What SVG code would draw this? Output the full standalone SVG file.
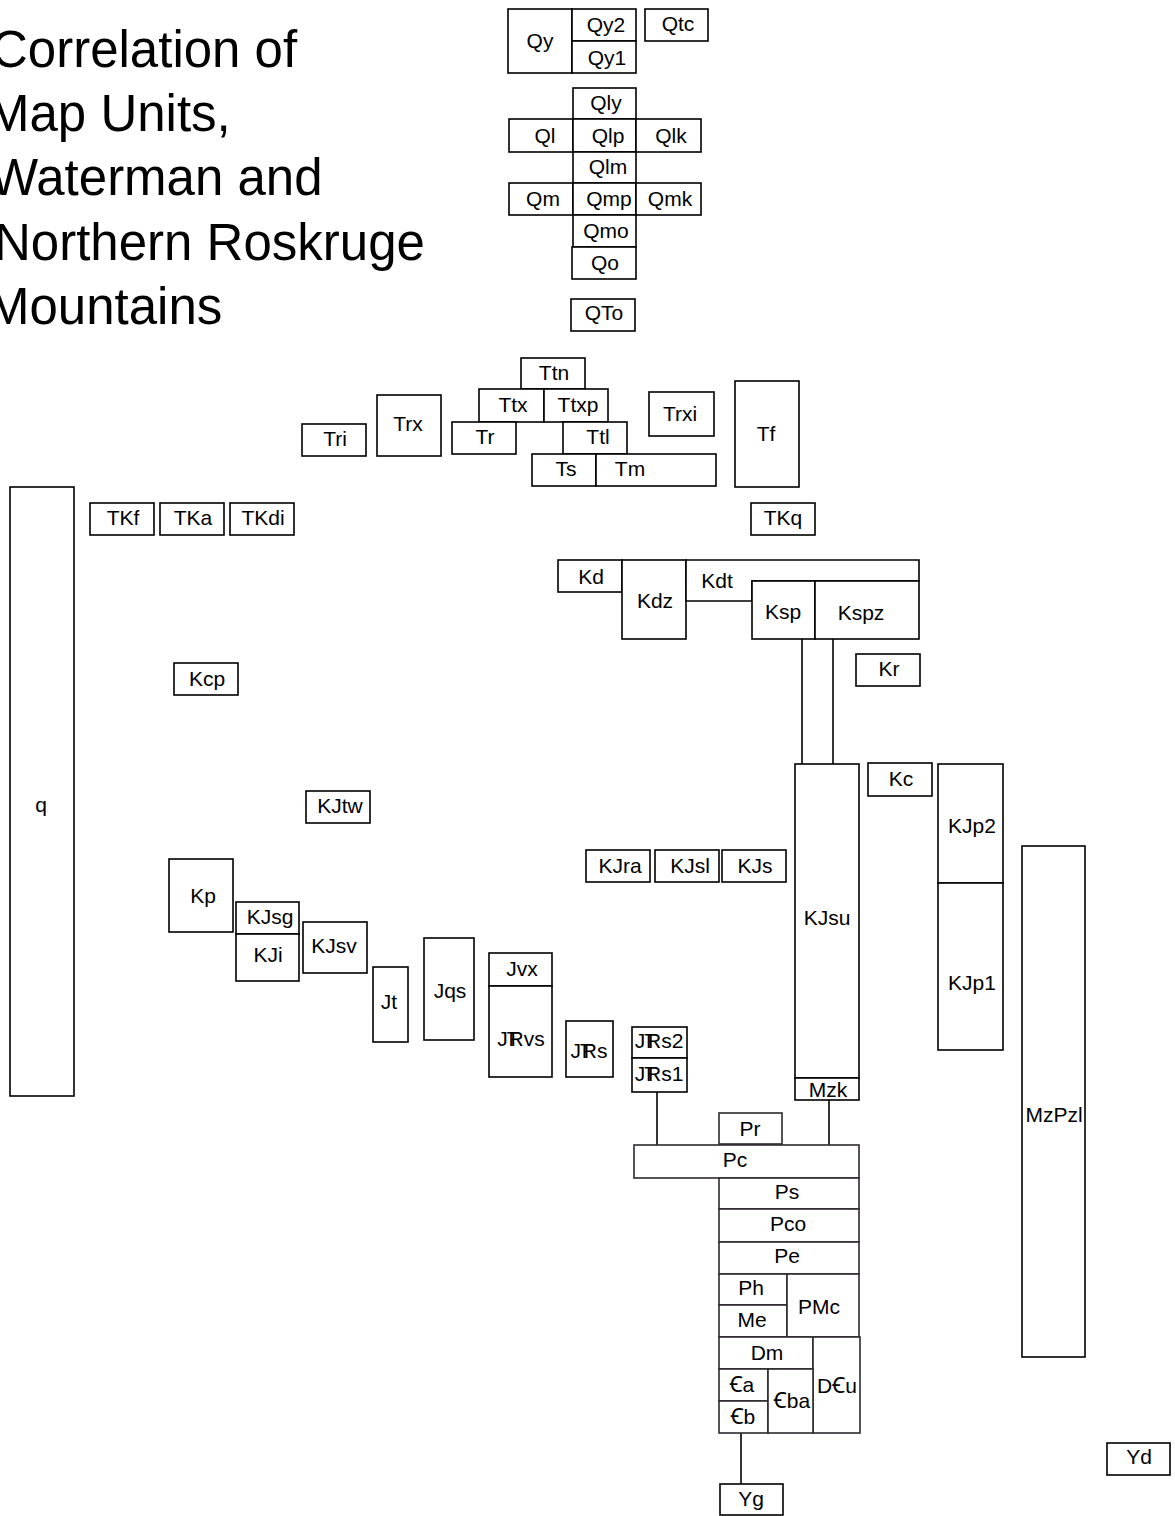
<svg xmlns="http://www.w3.org/2000/svg" width="1175" height="1516" viewBox="0 0 1175 1516">
<style>
.b{fill:#fff;stroke:#000;stroke-width:1.6}
.p{fill:#fff;stroke:#2e2a30;stroke-width:1.6}
.c{fill:none;stroke:#000;stroke-width:1.6}
.t{font-family:"Liberation Sans",Arial,"Noto Sans","DejaVu Sans",sans-serif;font-size:21px;text-anchor:middle;fill:#000}
.h{font-family:"Liberation Sans",Arial,sans-serif;font-size:51px;fill:#000}
</style>
<rect width="1175" height="1516" fill="#fff"/>
<g id="title">
<text class="h" x="-9" y="67">Correlation of</text>
<text class="h" x="-13" y="131">Map Units,</text>
<text class="h" x="-10" y="195">Waterman and</text>
<text class="h" x="-6" y="260">Northern Roskruge</text>
<text class="h" x="-13" y="324">Mountains</text>
</g>
<g id="connectors">
<line class="c" x1="802" y1="639" x2="802" y2="764"/>
<line class="c" x1="833" y1="639" x2="833" y2="764"/>
<line class="c" x1="829" y1="1100" x2="829" y2="1145"/>
<line class="c" x1="657" y1="1092" x2="657" y2="1145"/>
<line class="c" x1="741" y1="1433" x2="741" y2="1484"/>
</g>
<g id="Qy"><rect class="b" x="508" y="9" width="64" height="64"/><text class="t" x="540" y="48">Qy</text></g>
<g id="Qy2"><rect class="b" x="572" y="9" width="64" height="32"/><text class="t" x="606" y="32">Qy2</text></g>
<g id="Qy1"><rect class="b" x="572" y="41" width="64" height="32"/><text class="t" x="607" y="65">Qy1</text></g>
<g id="Qtc"><rect class="b" x="645" y="9" width="63" height="32"/><text class="t" x="678" y="31">Qtc</text></g>
<g id="Qly"><rect class="b" x="573" y="88" width="63" height="31"/><text class="t" x="606" y="110">Qly</text></g>
<g id="Ql"><rect class="b" x="509" y="119" width="64" height="33"/><text class="t" x="545" y="143">Ql</text></g>
<g id="Qlp"><rect class="b" x="573" y="119" width="63" height="33"/><text class="t" x="608" y="143">Qlp</text></g>
<g id="Qlk"><rect class="b" x="636" y="119" width="65" height="33"/><text class="t" x="671" y="143">Qlk</text></g>
<g id="Qlm"><rect class="b" x="573" y="152" width="63" height="31"/><text class="t" x="608" y="174">Qlm</text></g>
<g id="Qm"><rect class="b" x="509" y="183" width="64" height="32"/><text class="t" x="543" y="206">Qm</text></g>
<g id="Qmp"><rect class="b" x="573" y="183" width="63" height="32"/><text class="t" x="609" y="206">Qmp</text></g>
<g id="Qmk"><rect class="b" x="636" y="183" width="65" height="32"/><text class="t" x="670" y="206">Qmk</text></g>
<g id="Qmo"><rect class="b" x="573" y="215" width="63" height="32"/><text class="t" x="606" y="238">Qmo</text></g>
<g id="Qo"><rect class="b" x="572" y="247" width="64" height="32"/><text class="t" x="605" y="270">Qo</text></g>
<g id="QTo"><rect class="b" x="571" y="299" width="64" height="32"/><text class="t" x="604" y="320">QTo</text></g>
<g id="Ttn"><rect class="b" x="521" y="358" width="64" height="31"/><text class="t" x="554" y="380">Ttn</text></g>
<g id="Ttx"><rect class="b" x="479" y="389" width="65" height="33"/><text class="t" x="513" y="412">Ttx</text></g>
<g id="Ttxp"><rect class="b" x="544" y="389" width="64" height="33"/><text class="t" x="578" y="412">Ttxp</text></g>
<g id="Tr"><rect class="b" x="452" y="422" width="64" height="32"/><text class="t" x="485" y="444">Tr</text></g>
<g id="Ttl"><rect class="b" x="563" y="422" width="64" height="32"/><text class="t" x="598" y="444">Ttl</text></g>
<g id="Ts"><rect class="b" x="532" y="454" width="64" height="32"/><text class="t" x="566" y="476">Ts</text></g>
<g id="Tm"><rect class="b" x="596" y="454" width="120" height="32"/><text class="t" x="630" y="476">Tm</text></g>
<g id="Trxi"><rect class="b" x="649" y="392" width="65" height="44"/><text class="t" x="680" y="421">Trxi</text></g>
<g id="Tri"><rect class="b" x="302" y="424" width="64" height="32"/><text class="t" x="335" y="446">Tri</text></g>
<g id="Trx"><rect class="b" x="377" y="395" width="64" height="61"/><text class="t" x="408" y="431">Trx</text></g>
<g id="Tf"><rect class="b" x="735" y="381" width="64" height="106"/><text class="t" x="766" y="441">Tf</text></g>
<g id="TKq"><rect class="b" x="751" y="503" width="64" height="32"/><text class="t" x="783" y="525">TKq</text></g>
<g id="TKf"><rect class="b" x="90" y="503" width="64" height="32"/><text class="t" x="123" y="525">TKf</text></g>
<g id="TKa"><rect class="b" x="160" y="503" width="64" height="32"/><text class="t" x="193" y="525">TKa</text></g>
<g id="TKdi"><rect class="b" x="230" y="503" width="64" height="32"/><text class="t" x="263" y="525">TKdi</text></g>
<g id="q"><rect class="b" x="10" y="487" width="64" height="609"/><text class="t" x="41" y="812">q</text></g>
<g id="Kd"><rect class="b" x="558" y="560" width="64" height="32"/><text class="t" x="591" y="584">Kd</text></g>
<g id="Kdz"><rect class="b" x="622" y="560" width="64" height="79"/><text class="t" x="655" y="608">Kdz</text></g>
<g id="Kdt"><path class="b" d="M686,560 H919 V581 H752 V601 H686 Z"/><text class="t" x="717" y="588">Kdt</text></g>
<g id="Ksp"><rect class="b" x="752" y="581" width="63" height="58"/><text class="t" x="783" y="619">Ksp</text></g>
<g id="Kspz"><rect class="b" x="815" y="581" width="104" height="58"/><text class="t" x="861" y="620">Kspz</text></g>
<g id="Kr"><rect class="b" x="856" y="654" width="64" height="32"/><text class="t" x="889" y="676">Kr</text></g>
<g id="Kcp"><rect class="b" x="174" y="663" width="64" height="32"/><text class="t" x="207" y="686">Kcp</text></g>
<g id="KJtw"><rect class="b" x="306" y="791" width="64" height="32"/><text class="t" x="340" y="813">KJtw</text></g>
<g id="KJra"><rect class="b" x="586" y="850" width="64" height="32"/><text class="t" x="620" y="873">KJra</text></g>
<g id="KJsl"><rect class="b" x="655" y="850" width="64" height="32"/><text class="t" x="690" y="873">KJsl</text></g>
<g id="KJs"><rect class="b" x="722" y="850" width="64" height="32"/><text class="t" x="755" y="873">KJs</text></g>
<g id="KJsu"><rect class="b" x="795" y="764" width="64" height="314"/><text class="t" x="827" y="925">KJsu</text></g>
<g id="Mzk"><rect class="b" x="795" y="1078" width="64" height="22"/><text class="t" x="828" y="1097">Mzk</text></g>
<g id="Kc"><rect class="b" x="868" y="763" width="64" height="33"/><text class="t" x="901" y="786">Kc</text></g>
<g id="KJp2"><rect class="b" x="938" y="764" width="65" height="119"/><text class="t" x="972" y="833">KJp2</text></g>
<g id="KJp1"><rect class="b" x="938" y="883" width="65" height="167"/><text class="t" x="972" y="990">KJp1</text></g>
<g id="MzPzl"><rect class="b" x="1022" y="846" width="63" height="511"/><text class="t" x="1054" y="1122">MzPzl</text></g>
<g id="Kp"><rect class="b" x="169" y="859" width="64" height="73"/><text class="t" x="203" y="903">Kp</text></g>
<g id="KJsg"><rect class="b" x="236" y="902" width="63" height="32"/><text class="t" x="270" y="924">KJsg</text></g>
<g id="KJi"><rect class="b" x="236" y="934" width="63" height="47"/><text class="t" x="268" y="962">KJi</text></g>
<g id="KJsv"><rect class="b" x="303" y="922" width="64" height="51"/><text class="t" x="334" y="953">KJsv</text></g>
<g id="Jt"><rect class="b" x="373" y="967" width="35" height="75"/><text class="t" x="389" y="1009">Jt</text></g>
<g id="Jqs"><rect class="b" x="424" y="938" width="50" height="102"/><text class="t" x="450" y="998">Jqs</text></g>
<g id="Jvx"><rect class="b" x="489" y="953" width="63" height="33"/><text class="t" x="522" y="976">Jvx</text></g>
<g id="JTRvs"><rect class="b" x="489" y="986" width="63" height="91"/><text class="t" x="521" y="1046">J<tspan dx="-1">T</tspan><tspan dx="-11">R</tspan>vs</text></g>
<g id="JTRs"><rect class="b" x="566" y="1021" width="47" height="56"/><text class="t" x="589" y="1058">J<tspan dx="-1">T</tspan><tspan dx="-11">R</tspan>s</text></g>
<g id="JTRs2"><rect class="b" x="632" y="1027" width="55" height="31"/><text class="t" x="659" y="1048">J<tspan dx="-1">T</tspan><tspan dx="-11">R</tspan>s2</text></g>
<g id="JTRs1"><rect class="b" x="632" y="1058" width="55" height="34"/><text class="t" x="659" y="1081">J<tspan dx="-1">T</tspan><tspan dx="-11">R</tspan>s1</text></g>
<g id="Pr"><rect class="p" x="719" y="1113" width="63" height="31"/><text class="t" x="750" y="1136">Pr</text></g>
<g id="Pc"><rect class="p" x="634" y="1145" width="225" height="33"/><text class="t" x="735" y="1167">Pc</text></g>
<g id="Ps"><rect class="p" x="719" y="1178" width="140" height="31"/><text class="t" x="787" y="1199">Ps</text></g>
<g id="Pco"><rect class="p" x="719" y="1209" width="140" height="33"/><text class="t" x="788" y="1231">Pco</text></g>
<g id="Pe"><rect class="p" x="719" y="1242" width="140" height="32"/><text class="t" x="787" y="1263">Pe</text></g>
<g id="Ph"><rect class="p" x="719" y="1274" width="68" height="31"/><text class="t" x="751" y="1295">Ph</text></g>
<g id="Me"><rect class="p" x="719" y="1305" width="68" height="32"/><text class="t" x="752" y="1327">Me</text></g>
<g id="PMc"><rect class="p" x="787" y="1274" width="72" height="63"/><text class="t" x="819" y="1314">PMc</text></g>
<g id="Dm"><rect class="p" x="719" y="1337" width="94" height="32"/><text class="t" x="767" y="1360">Dm</text></g>
<g id="DCu"><rect class="p" x="813" y="1337" width="47" height="96"/><text class="t" x="837" y="1393">DꞒu</text></g>
<g id="Ca"><rect class="p" x="719" y="1369" width="49" height="32"/><text class="t" x="742" y="1392">Ꞓa</text></g>
<g id="Cb"><rect class="p" x="719" y="1401" width="49" height="32"/><text class="t" x="743" y="1424">Ꞓb</text></g>
<g id="Cba"><rect class="p" x="768" y="1369" width="45" height="64"/><text class="t" x="792" y="1408">Ꞓba</text></g>
<g id="Yg"><rect class="b" x="720" y="1484" width="63" height="31"/><text class="t" x="751" y="1506">Yg</text></g>
<g id="Yd"><rect class="b" x="1107" y="1443" width="63" height="32"/><text class="t" x="1139" y="1464">Yd</text></g>
</svg>
